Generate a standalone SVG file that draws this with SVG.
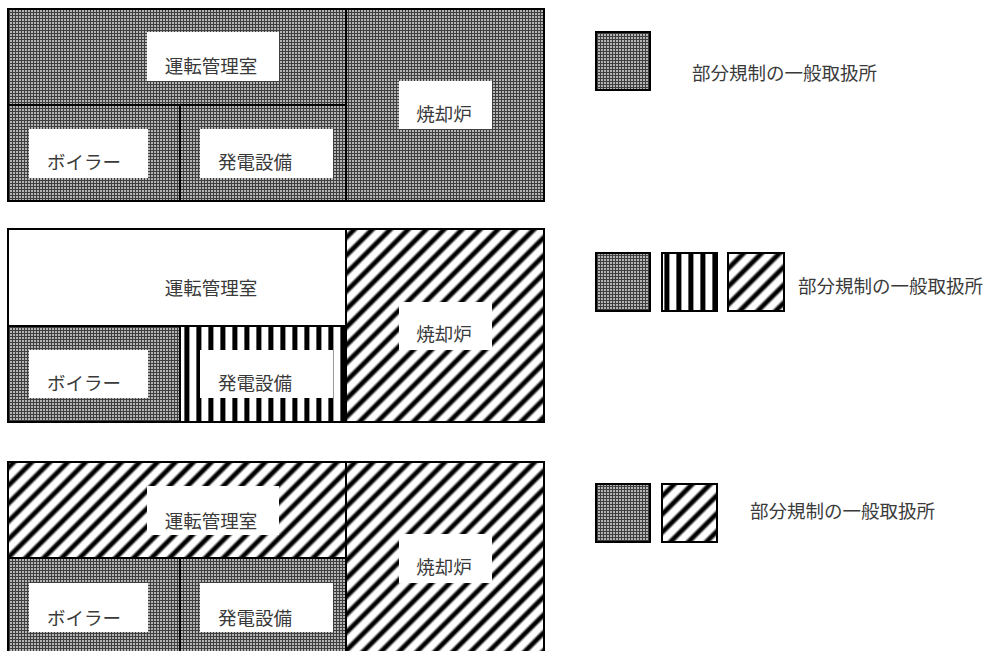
<svg xmlns="http://www.w3.org/2000/svg" width="987" height="651" viewBox="0 0 987 651">
<style>
.room{stroke:#000;stroke-width:2}
.lbl{fill:#fff;stroke:none}
.t{font-family:"Noto Sans CJK JP","Noto Sans CJK SC",sans-serif;font-size:18.5px;fill:#3a3a3a;text-anchor:middle;dominant-baseline:central}
.lt{font-family:"Noto Sans CJK JP","Noto Sans CJK SC",sans-serif;font-size:18.5px;fill:#3a3a3a;dominant-baseline:central}
.chk{fill:url(#chk)}
.vs{fill:url(#vs)}
.ds{fill:url(#ds)}
</style>
<defs>
<pattern id="chk" width="3" height="3" patternUnits="userSpaceOnUse">
<rect width="3" height="3" fill="#3e3e3e"/>
<rect x="1" y="1" width="2" height="2" fill="#b4b4b4"/>
</pattern>
<linearGradient id="vg" x1="0" y1="0" x2="1" y2="0">
<stop offset="0" stop-color="#fff"/>
<stop offset="0.3" stop-color="#fff"/>
<stop offset="0.42" stop-color="#000"/>
<stop offset="0.72" stop-color="#000"/>
<stop offset="0.84" stop-color="#fff"/>
<stop offset="1" stop-color="#fff"/>
</linearGradient>
<pattern id="vs" x="180" y="0" width="12" height="10" patternUnits="userSpaceOnUse">
<rect width="12" height="10" fill="url(#vg)"/>
</pattern>
<linearGradient id="dg" x1="0" y1="0" x2="1" y2="0">
<stop offset="0" stop-color="#fff"/>
<stop offset="0.22" stop-color="#fff"/>
<stop offset="0.4" stop-color="#000"/>
<stop offset="0.6" stop-color="#000"/>
<stop offset="0.78" stop-color="#fff"/>
<stop offset="1" stop-color="#fff"/>
</linearGradient>
<pattern id="ds" width="12.7" height="10" patternUnits="userSpaceOnUse" patternTransform="rotate(45)">
<rect width="12.7" height="10" fill="url(#dg)"/>
</pattern>
</defs>

<!-- Section 1 -->
<g id="s1-control">
<rect class="room chk" x="8" y="9" width="338" height="96"/>
<rect class="lbl" x="147" y="32" width="132" height="49"/>
<text class="t" x="211" y="65">運転管理室</text>
</g>
<g id="s1-boiler">
<rect class="room chk" x="8" y="105" width="172" height="96"/>
<rect class="lbl" x="29" y="129" width="119" height="49"/>
<text class="t" x="84" y="161">ボイラー</text>
</g>
<g id="s1-power">
<rect class="room chk" x="180" y="105" width="166" height="96"/>
<rect class="lbl" x="200" y="129" width="133" height="49"/>
<text class="t" x="255" y="161">発電設備</text>
</g>
<g id="s1-incinerator">
<rect class="room chk" x="346" y="9" width="198" height="192"/>
<rect class="lbl" x="399" y="81" width="93" height="48"/>
<text class="t" x="444" y="113">焼却炉</text>
</g>
<g id="legend1">
<rect class="room chk" x="596" y="32" width="54" height="58"/>
<text class="lt" x="692" y="72">部分規制の一般取扱所</text>
</g>

<!-- Section 2 -->
<g id="s2-control">
<rect class="room" fill="#fff" x="8" y="229" width="338" height="97"/>
<text class="t" x="211" y="287">運転管理室</text>
</g>
<g id="s2-boiler">
<rect class="room chk" x="8" y="326" width="172" height="96"/>
<rect class="lbl" x="29" y="350" width="119" height="48"/>
<text class="t" x="84" y="382">ボイラー</text>
</g>
<g id="s2-power">
<rect class="room vs" x="180" y="326" width="166" height="96"/>
<rect class="lbl" x="200" y="350" width="133" height="48"/>
<text class="t" x="255" y="382">発電設備</text>
</g>
<g id="s2-incinerator">
<rect class="room ds" x="346" y="229" width="198" height="193"/>
<rect class="lbl" x="399" y="302" width="93" height="48"/>
<text class="t" x="444" y="333">焼却炉</text>
</g>
<g id="legend2">
<rect class="room chk" x="596" y="253" width="54" height="58"/>
<rect class="room vs" x="662" y="253" width="55" height="58"/>
<rect class="room ds" x="728" y="253" width="56" height="58"/>
<text class="lt" x="798" y="285">部分規制の一般取扱所</text>
</g>

<!-- Section 3 -->
<g id="s3-control">
<rect class="room ds" x="8" y="462" width="338" height="96"/>
<rect class="lbl" x="147" y="486" width="132" height="49"/>
<text class="t" x="211" y="520">運転管理室</text>
</g>
<g id="s3-boiler">
<rect class="room chk" x="8" y="558" width="172" height="100"/>
<rect class="lbl" x="29" y="583" width="119" height="49"/>
<text class="t" x="84" y="617">ボイラー</text>
</g>
<g id="s3-power">
<rect class="room chk" x="180" y="558" width="166" height="100"/>
<rect class="lbl" x="200" y="583" width="133" height="49"/>
<text class="t" x="255" y="617">発電設備</text>
</g>
<g id="s3-incinerator">
<rect class="room ds" x="346" y="462" width="198" height="196"/>
<rect class="lbl" x="399" y="534" width="93" height="49"/>
<text class="t" x="444" y="566">焼却炉</text>
</g>
<g id="legend3">
<rect class="room chk" x="596" y="484" width="54" height="58"/>
<rect class="room ds" x="662" y="484" width="55" height="58"/>
<text class="lt" x="750" y="510">部分規制の一般取扱所</text>
</g>

<g id="connectors"/>
</svg>
